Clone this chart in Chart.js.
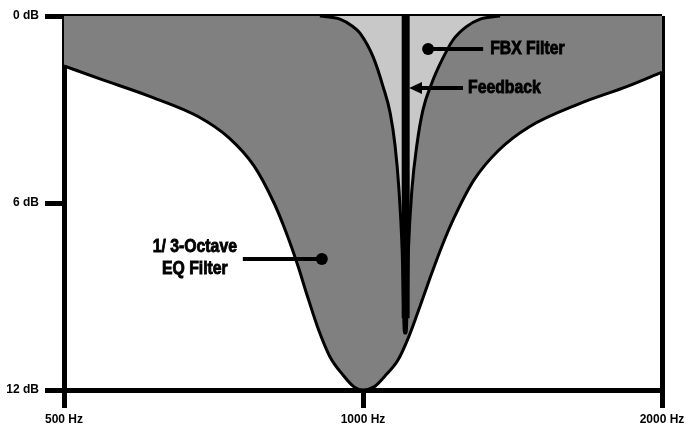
<!DOCTYPE html>
<html>
<head>
<meta charset="utf-8">
<script src="https://cdn.jsdelivr.net/npm/chart.js@4.4.1/dist/chart.umd.min.js"></script>
<style>
  body { margin: 0; background: #fff; }
  #wrap { width: 690px; height: 425px; }
</style>
</head>
<body>
<div id="wrap"><canvas id="myChart"></canvas></div>
<script>
// Ejes
const xTicks = [500, 1000, 2000];
const yTicks = [0, 6, 12];

// Filtro EQ 1/3 de octava (Hz, dB de atenuación)
const eqFreqs = [500, 543.5, 608.9, 683.7, 733, 776.7, 813.6, 836.5, 860.1, 880.3, 903.1, 926.4, 954.7, 979.4, 1000,
    1025.9, 1052.3, 1084.5, 1112.6, 1141.3, 1168, 1201, 1234.9, 1293.5, 1370.6, 1469.4, 1650, 1848.5, 2000];
const eqDb = [1.60, 2.02, 2.57, 3.24, 3.91, 4.81, 6.00, 6.93, 8.02, 9.05, 10.11, 10.94, 11.52, 11.90, 12.0,
    11.90, 11.55, 11.04, 10.27, 9.31, 8.41, 7.38, 6.48, 5.26, 4.30, 3.56, 2.82, 2.25, 1.80];

// Filtro FBX (muesca estrecha)
const fbxFreqs = [905, 948, 975, 993, 1024, 1048, 1065, 1077, 1087, 1095, 1101, 1105, 1111, 1120, 1133, 1149, 1173, 1201, 1232, 1270, 1312, 1374];
const fbxDb = [0, 0.10, 0.32, 0.55, 1.32, 2.28, 3.11, 4.14, 5.58, 7.51, 10.17, 10.17, 7.51, 5.58, 4.14, 3.02, 2.15, 1.41, 0.77, 0.35, 0.10, 0];

// Realimentación
const feedbackFreqs = [1104, 1104];
const feedbackDb = [0, 9.7];

const toPoints = (xs, ys) => xs.map((v, i) => ({ x: v, y: ys[i] }));

// Texto estrecho y grueso para las etiquetas
function textoEstrecho(ctx, texto, x, y, align) {
    ctx.save();
    ctx.translate(x, y);
    ctx.scale(0.83, 1);
    ctx.textAlign = align;
    ctx.lineWidth = 0.9;
    ctx.fillText(texto, 0, 0);
    ctx.strokeText(texto, 0, 0);
    ctx.restore();
}

// Plugin para las etiquetas con flechas
const etiquetas = {
    id: 'etiquetas',
    afterDraw(chart) {
        const { ctx, scales: { x, y } } = chart;
        ctx.save();
        ctx.fillStyle = '#000';
        ctx.strokeStyle = '#000';
        ctx.lineWidth = 4;
        ctx.font = 'bold 19px "Liberation Sans", Arial, sans-serif';
        ctx.textBaseline = 'middle';

        // FBX Filter
        let px = x.getPixelForValue(1163), py = y.getPixelForValue(1.06);
        ctx.beginPath(); ctx.arc(px, py, 6, 0, Math.PI * 2); ctx.fill();
        ctx.beginPath(); ctx.moveTo(px, py); ctx.lineTo(px + 55, py); ctx.stroke();
        textoEstrecho(ctx, 'FBX Filter', px + 62, py, 'left');

        // Feedback
        px = x.getPixelForValue(1112.6); py = y.getPixelForValue(2.31);
        ctx.beginPath();
        ctx.moveTo(px, py); ctx.lineTo(px + 13, py - 6); ctx.lineTo(px + 13, py + 6);
        ctx.closePath(); ctx.fill();
        ctx.beginPath(); ctx.moveTo(px + 10, py); ctx.lineTo(px + 54, py); ctx.stroke();
        textoEstrecho(ctx, 'Feedback', px + 59, py, 'left');

        // 1/3-Octave EQ Filter
        px = x.getPixelForValue(909); py = y.getPixelForValue(7.80);
        ctx.beginPath(); ctx.arc(px, py, 6, 0, Math.PI * 2); ctx.fill();
        ctx.beginPath(); ctx.moveTo(px, py); ctx.lineTo(px - 79, py); ctx.stroke();
        textoEstrecho(ctx, '1/ 3-Octave', px - 127, py - 12, 'center');
        textoEstrecho(ctx, 'EQ Filter', px - 127, py + 10, 'center');
        ctx.restore();
    }
};

function createChart() {
    const ctx = document.getElementById('myChart').getContext('2d');
    new Chart(ctx, {
        type: 'line',
        data: {
            datasets: [
                {
                    label: 'Feedback',
                    data: toPoints(feedbackFreqs, feedbackDb),
                    borderColor: '#000',
                    borderWidth: 8,
                    pointRadius: 0,
                    fill: false,
                    order: 1
                },
                {
                    label: 'FBX Filter',
                    data: toPoints(fbxFreqs, fbxDb),
                    borderColor: '#000',
                    borderWidth: 3,
                    backgroundColor: '#c8c8c8',
                    pointRadius: 0,
                    cubicInterpolationMode: 'monotone',
                    fill: { value: 0 },
                    order: 2
                },
                {
                    label: '1/3-Octave EQ Filter',
                    data: toPoints(eqFreqs, eqDb),
                    borderColor: '#000',
                    borderWidth: 3,
                    backgroundColor: '#808080',
                    pointRadius: 0,
                    cubicInterpolationMode: 'monotone',
                    fill: { value: 0 },
                    order: 3
                }
            ]
        },
        options: {
            responsive: true,
            maintainAspectRatio: false,
            animation: false,
            layout: { padding: { top: 16, right: 28, left: 0, bottom: 0 } },
            plugins: {
                legend: { display: false },
                tooltip: { enabled: false }
            },
            scales: {
                x: {
                    type: 'logarithmic',
                    min: 500,
                    max: 2000,
                    z: 1,
                    afterBuildTicks: (s) => { s.ticks = xTicks.map(v => ({ value: v })); },
                    afterFit: (s) => { s.height = 35; },
                    ticks: {
                        autoSkip: false,
                        maxRotation: 0,
                        padding: 4,
                        color: '#000',
                        font: { family: '"Liberation Sans", Arial, sans-serif', size: 12, weight: 'bold' },
                        callback: (v) => v + ' Hz'
                    },
                    grid: {
                        lineWidth: 5,
                        tickLength: 18,
                        tickColor: '#000',
                        color: (c) => (c.tick && c.tick.value === 2000 ? '#000' : 'rgba(0,0,0,0)')
                    },
                    border: { display: true, color: '#000', width: 5 }
                },
                y: {
                    type: 'linear',
                    reverse: true,
                    min: 0,
                    max: 12,
                    z: 1,
                    afterBuildTicks: (s) => { s.ticks = yTicks.map(v => ({ value: v })); },
                    afterFit: (s) => { s.width = 64; },
                    ticks: {
                        padding: 6,
                        color: '#000',
                        font: { family: '"Liberation Sans", Arial, sans-serif', size: 12, weight: 'bold' },
                        callback: (v) => v + ' dB'
                    },
                    grid: {
                        lineWidth: 5,
                        tickLength: 19,
                        tickColor: '#000',
                        color: (c) => (c.tick && c.tick.value === 0 ? '#000' : 'rgba(0,0,0,0)')
                    },
                    border: { display: true, color: '#000', width: 5 }
                }
            }
        },
        plugins: [etiquetas]
    });
}

document.addEventListener("DOMContentLoaded", () => {
    createChart();
});
</script>
</body>
</html>
